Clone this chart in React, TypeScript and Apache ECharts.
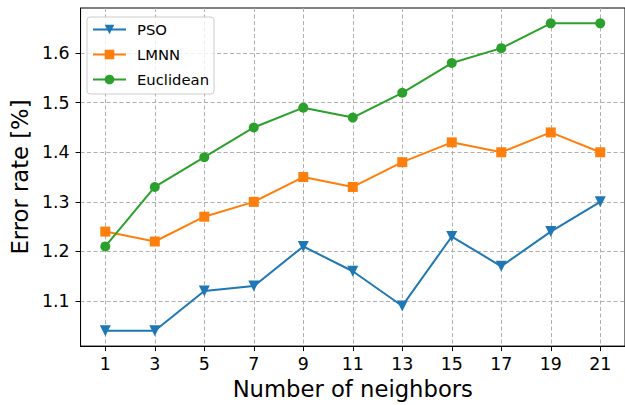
import React, { useEffect, useRef } from "react";
import * as echarts from "echarts";

const neighbors = [1, 3, 5, 7, 9, 11, 13, 15, 17, 19, 21];
const psoErr = [1.04, 1.04, 1.12, 1.13, 1.21, 1.16, 1.09, 1.23, 1.17, 1.24, 1.3];
const lmnnErr = [1.24, 1.22, 1.27, 1.3, 1.35, 1.33, 1.38, 1.42, 1.4, 1.44, 1.4];
const euclidErr = [1.21, 1.33, 1.39, 1.45, 1.49, 1.47, 1.52, 1.58, 1.61, 1.66, 1.66];
const yTicks = [1.1, 1.2, 1.3, 1.4, 1.5, 1.6];

const FONT = "DejaVu Sans";

export default function App() {
  const ref = useRef<HTMLDivElement>(null);
  useEffect(() => {
    if (!ref.current) return;
    const chart = echarts.init(ref.current, null, { renderer: "svg" });
    const pairs = (ys: number[]) => neighbors.map((x, i) => [x, ys[i]]);
    const gridLine = { show: true, lineStyle: { color: "#b0b0b0", width: 1, type: [4, 2.5] as any } };
    chart.setOption({
      animation: false,
      backgroundColor: "#ffffff",
      grid: {
        left: 79,
        top: 8,
        width: 550,
        height: 341,
        show: true,
        borderColor: "#000000",
        borderWidth: 1,
        backgroundColor: "transparent",
      },
      legend: {
        orient: "vertical",
        left: 87,
        top: 17,
        backgroundColor: "rgba(255,255,255,0.8)",
        borderColor: "#cccccc",
        borderWidth: 1,
        borderRadius: 3,
        padding: [5, 5, 7, 5],
        itemWidth: 33,
        itemHeight: 12,
        itemGap: 10,
        textStyle: { fontFamily: FONT, fontSize: 14.8, color: "#000", padding: [0, 0, 0, 6] },
        data: ["PSO", "LMNN", "Euclidean"],
      },
      xAxis: {
        type: "value",
        min: 0,
        max: 22,
        name: "Number of neighbors",
        nameLocation: "middle",
        nameGap: 29,
        nameTextStyle: { fontFamily: FONT, fontSize: 22.7, color: "#000" },
        axisLine: { show: true, lineStyle: { color: "#000", width: 1 } },
        axisTick: { show: true, length: 5, lineStyle: { color: "#000", width: 1 }, customValues: neighbors },
        axisLabel: {
          fontFamily: FONT,
          fontSize: 17.4,
          color: "#000",
          margin: 9,
          customValues: neighbors,
        },
        splitLine: gridLine,
      },
      yAxis: {
        type: "value",
        min: 1.009,
        max: 1.691,
        name: "Error rate [%]",
        nameLocation: "middle",
        nameGap: 47,
        nameTextStyle: { fontFamily: FONT, fontSize: 22.7, color: "#000" },
        axisLine: { show: true, lineStyle: { color: "#000", width: 1 } },
        axisTick: { show: true, length: 5, lineStyle: { color: "#000", width: 1 }, customValues: yTicks },
        axisLabel: {
          fontFamily: FONT,
          fontSize: 17.4,
          color: "#000",
          margin: 11,
          customValues: yTicks,
          formatter: (v: number) => v.toFixed(1),
        },
        splitLine: gridLine,
      },
      series: [
        {
          name: "PSO",
          type: "line",
          data: pairs(psoErr),
          symbol: "triangle",
          symbolRotate: 180,
          symbolSize: 11,
          color: "#1f77b4",
          lineStyle: { width: 2 },
          itemStyle: { color: "#1f77b4" },
        },
        {
          name: "LMNN",
          type: "line",
          data: pairs(lmnnErr),
          symbol: "rect",
          symbolSize: 10,
          color: "#ff7f0e",
          lineStyle: { width: 2 },
          itemStyle: { color: "#ff7f0e" },
        },
        {
          name: "Euclidean",
          type: "line",
          data: pairs(euclidErr),
          symbol: "circle",
          symbolSize: 10,
          color: "#2ca02c",
          lineStyle: { width: 2 },
          itemStyle: { color: "#2ca02c" },
        },
      ],
    });
    return () => chart.dispose();
  }, []);
  return (
    <div
      ref={ref}
      style={{ position: "absolute", left: 0, top: 0, width: 625, height: 405 }}
    />
  );
}
